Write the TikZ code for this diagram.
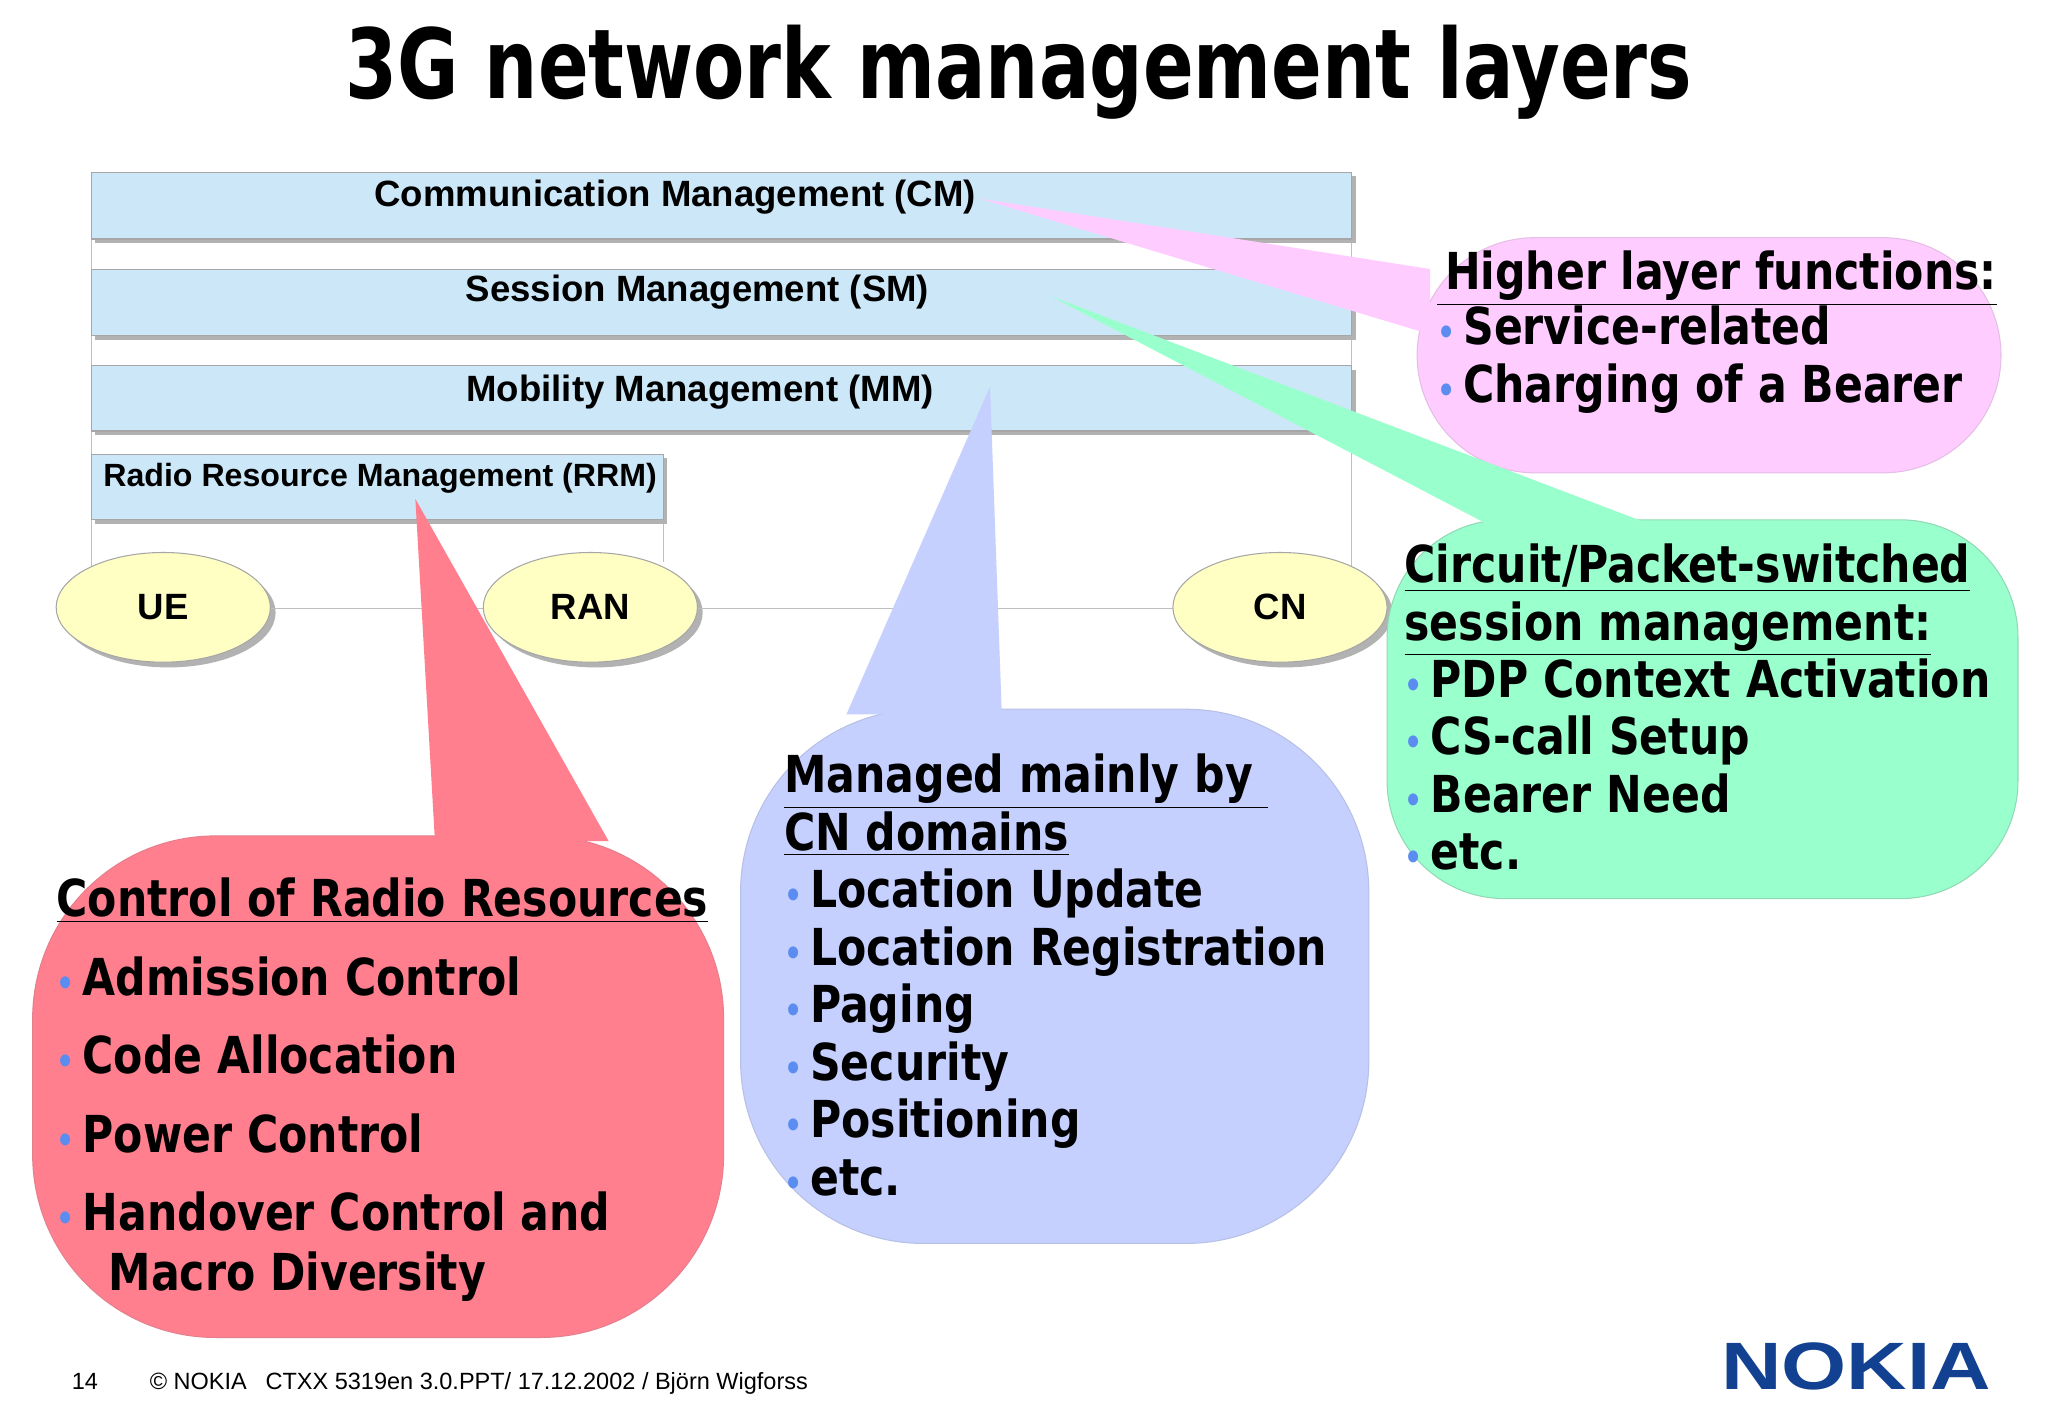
\documentclass[tikz,border=0pt]{standalone}
\usepackage{fontspec}
\usetikzlibrary{shapes.geometric}
\setmainfont{Liberation Sans}
\newfontfamily\cond{DejaVu Sans Condensed}
\definecolor{barblue}{HTML}{CCE8F8}
\definecolor{ellyel}{HTML}{FFFFC4}
\definecolor{cpink}{HTML}{FFCCFF}
\definecolor{cgreen}{HTML}{99FFCC}
\definecolor{cblue}{HTML}{C5D0FF}
\definecolor{cred}{HTML}{FF7F8F}
\definecolor{bul}{HTML}{5B8CF0}
\definecolor{nokia}{HTML}{124191}
\begin{document}
\begin{tikzpicture}[x=0.5pt,y=-0.5pt,
  bar/.style={fill=barblue,draw=gray!70},
  barshadow/.style={fill=gray!60},
  ell/.style={ellipse,fill=ellyel,draw=gray!70,minimum width=82pt,minimum height=42pt,font=\bfseries\fontsize{14}{15}\selectfont},
  txt/.style={font=\cond\bfseries\fontsize{19.5}{22}\selectfont,align=left,anchor=north west,inner sep=0pt,xscale=0.93},
  hdr/.style={font=\bfseries\fontsize{14}{15}\selectfont}]
\useasboundingbox (0,0) rectangle (1568,1085);
\fill[white] (0,0) rectangle (1568,1085);
\node[font=\cond\bfseries\fontsize{37}{40}\selectfont,xscale=0.86] (title) at (780,55) {3G network management layers};
% frame lines
\draw[gray!50] (70,183) -- (70,462) (1035,183) -- (1035,462) (508,398) -- (508,430);
% bars
\foreach \a/\b in {132/183,206/257,280/330}{
 \fill[barshadow] (73,\a+3) rectangle (1038,\b+3);
 \draw[bar] (70,\a) rectangle (1035,\b);}
\fill[barshadow] (73,351) rectangle (511,401);
\draw[bar] (70,348) rectangle (508,398);
\node[hdr] (cm) at (517,151) {Communication Management (CM)};
\node[hdr] (sm) at (534,224) {Session Management (SM)};
\node[hdr] (mm) at (536,300) {Mobility Management (MM)};
\node[font=\bfseries\fontsize{12.3}{14}\selectfont] (rrm) at (291,366) {Radio Resource Management (RRM)};
% ellipses
\foreach \x in {125,452,980}{
 \fill[gray!60] (\x+4,469) ellipse (82 and 42);}
\draw[gray!50] (207,466) -- (372,466) (534,466) -- (898,466);
\node[ell] (ue) at (125,465) {UE};
\node[ell] (ran) at (452,465) {RAN};
\node[ell] (cn) at (980,465) {CN};
% callouts
\draw[cpink!80!gray,fill=cpink,rounded corners=45] (1085,182) rectangle (1532,362);
\fill[cpink] (750,152) -- (1095,206) -- (1095,256) -- cycle;
\draw[cgreen!70!gray,fill=cgreen,rounded corners=45] (1062,398) rectangle (1545,688);
\fill[cgreen] (805,227) -- (1140,402) -- (1265,402) -- cycle;
\draw[cblue!80!gray,fill=cblue,rounded corners=70] (567,543) rectangle (1048,952);
\fill[cblue] (758,296) -- (648,547) -- (767,547) -- cycle;
\draw[cred!80!gray,fill=cred,rounded corners=70] (25,640) rectangle (554,1024);
\fill[cred] (318,382) -- (333,644) -- (466,644) -- cycle;
\newcommand{\bl}{\textcolor{bul}{\fontsize{13}{13}\selectfont\textbullet}\,}
\node[txt] (pt) at (1100,192) {\underline{\,Higher layer functions:}\\[-1pt]\bl Service-related\\[0pt]\bl Charging of a Bearer};
\node[txt] (gt) at (1075,416) {\underline{Circuit/Packet-switched}\\\underline{session management:}\\\bl PDP Context Activation\\\bl CS-call Setup\\\bl Bearer Need\\\bl etc.};
\node[txt] (bt) at (600,577) {\underline{Managed mainly by\ }\\\underline{CN domains}\\\bl Location Update\\\bl Location Registration\\\bl Paging\\\bl Security\\\bl Positioning\\\bl etc.};
\node[txt,font=\cond\bfseries\fontsize{19.5}{30}\selectfont] (rt) at (43,672) {\underline{Control of Radio Resources}\\\bl Admission Control\\\bl Code Allocation\\\bl Power Control\\\bl Handover Control and\\[-7pt]\hspace*{1.1em}Macro Diversity};
% footer
\node[font=\fontsize{9}{10}\selectfont,anchor=west] (foot) at (48,1059) {14\hspace{2.2em}© NOKIA\hspace{0.8em}CTXX 5319en 3.0.PPT/ 17.12.2002 / Björn Wigforss};
\node[font=\bfseries\fontsize{27}{30}\selectfont,text=nokia,scale=0.95,xscale=1.25] (logo) at (1421,1046) {NOKIA};
\end{tikzpicture}
\end{document}
